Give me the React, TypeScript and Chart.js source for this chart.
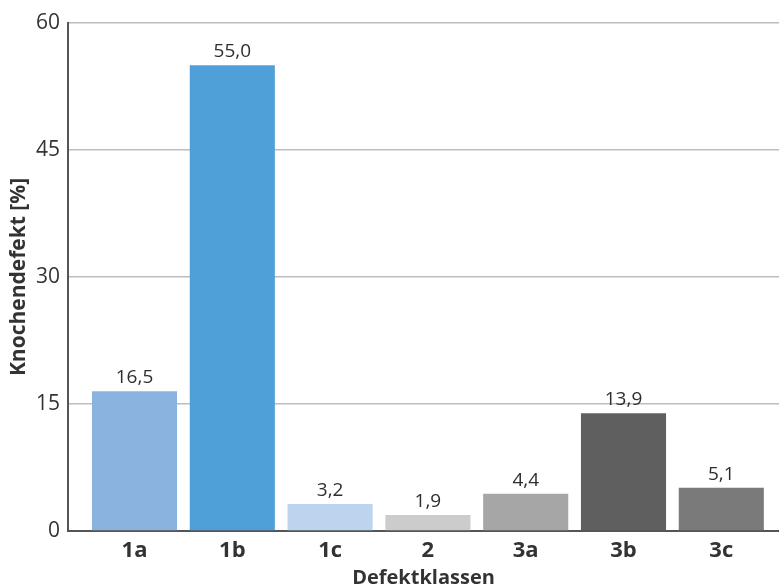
import React, { useEffect, useRef } from "react";
import { Chart, registerables } from "chart.js";

Chart.register(...registerables);

const categories = ["1a", "1b", "1c", "2", "3a", "3b", "3c"];
const values = [16.5, 55.0, 3.2, 1.9, 4.4, 13.9, 5.1];
const barColors = ["#8ab4df", "#4f9fd8", "#bdd4ee", "#cccccc", "#a6a6a6", "#5f5f5f", "#7a7a7a"];
const yTicks = [0, 15, 30, 45, 60];

const FONT = "'Open Sans', 'Noto Sans', sans-serif";

const valueLabels = {
  id: "valueLabels",
  afterDatasetsDraw(chart: any) {
    const { ctx } = chart;
    const meta = chart.getDatasetMeta(0);
    ctx.save();
    ctx.font = `19px ${FONT}`;
    ctx.fillStyle = "#2e2e2e";
    ctx.textAlign = "center";
    ctx.textBaseline = "bottom";
    meta.data.forEach((bar: any, i: number) => {
      const txt = values[i].toFixed(1).replace(".", ",");
      ctx.fillText(txt, bar.x, bar.y - 4);
    });
    ctx.restore();
  },
};

export default function App() {
  const ref = useRef<HTMLCanvasElement | null>(null);
  useEffect(() => {
    if (!ref.current) return;
    const chart = new Chart(ref.current, {
      type: "bar",
      data: {
        datasets: [
          {
            data: values.map((v, i) => ({ x: i, y: v })),
            backgroundColor: barColors,
            borderWidth: 0,
            barPercentage: 0.87,
            categoryPercentage: 1,
          },
        ],
      },
      options: {
        animation: false,
        responsive: true,
        maintainAspectRatio: false,
        layout: { padding: { top: 23, right: 0, left: 0, bottom: 0 } },
        plugins: {
          legend: { display: false },
          tooltip: { enabled: false },
        },
        scales: {
          x: {
            type: "linear",
            offset: false,
            min: -0.68,
            max: 6.59,
            afterFit: (s: any) => {
              s.height = 53;
            },
            afterBuildTicks: (s: any) => {
              s.ticks = categories.map((_, i) => ({ value: i }));
            },
            grid: { display: false, drawTicks: false },
            border: { display: true, color: "#555555", width: 2 },
            ticks: {
              padding: 7,
              color: "#333333",
              font: { family: FONT, size: 22, weight: "bold" },
              callback: (v: any) => categories[v as number] ?? "",
            },
            title: {
              display: true,
              text: "Defektklassen",
              color: "#333333",
              font: { family: FONT, size: 20, weight: "bold" },
              padding: { top: 0, bottom: -6 },
            },
          },
          y: {
            min: 0,
            max: 60,
            afterFit: (s: any) => {
              s.width = 68;
            },
            afterBuildTicks: (s: any) => {
              s.ticks = yTicks.map((v) => ({ value: v }));
            },
            grid: { color: "#bdbdbd", lineWidth: 1.5, drawTicks: false },
            border: { display: true, color: "#555555", width: 2 },
            ticks: {
              padding: 8,
              color: "#333333",
              font: { family: FONT, size: 21 },
            },
            title: {
              display: true,
              text: "Knochendefekt [%]",
              color: "#333333",
              font: { family: FONT, size: 21, weight: "bold" },
              padding: { top: 6, bottom: 0 },
            },
          },
        },
      },
      plugins: [valueLabels],
    });
    return () => chart.destroy();
  }, []);
  return (
    <div style={{ position: "fixed", left: 0, top: 0, width: 779, height: 584, background: "#ffffff" }}>
      <canvas ref={ref} />
    </div>
  );
}
